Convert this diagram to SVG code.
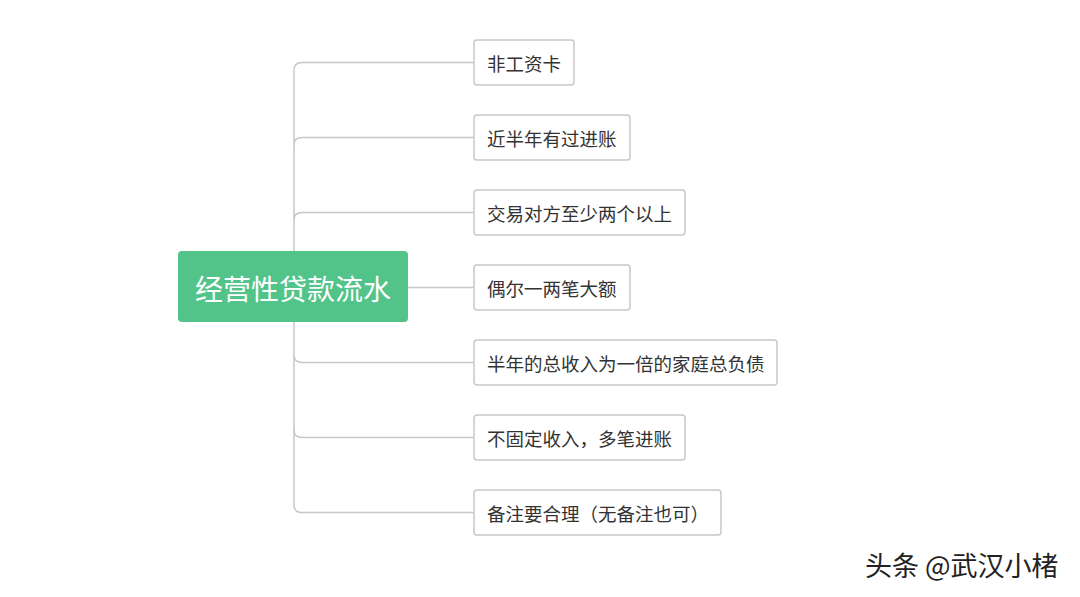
<svg xmlns="http://www.w3.org/2000/svg" width="1080" height="597" viewBox="0 0 1080 597">
<style>
.n rect{fill:#fff;stroke:#c8c8c8;stroke-width:1.5}
.n text{font-family:"Noto Sans CJK SC",sans-serif;font-size:18.5px;fill:#333;dominant-baseline:central}
.c path{fill:none;stroke:#c8c8c8;stroke-width:1.5}
</style>
<rect width="1080" height="597" fill="#fff"/>
<g class="c">
<path d="M294 251 V70 Q294 62.5 302 62.5 H474"/>
<path d="M294 145 Q294 137.5 302 137.5 H474"/>
<path d="M294 220 Q294 212.5 302 212.5 H474"/>
<path d="M408 287.5 H474"/>
<path d="M294 322 V505 Q294 512.5 302 512.5 H474"/>
<path d="M294 355 Q294 362.5 302 362.5 H474"/>
<path d="M294 430 Q294 437.5 302 437.5 H474"/>
</g>
<g id="root"><rect x="178" y="251" width="230" height="71" rx="4" fill="#52c48a"/>
<text x="293" y="288" text-anchor="middle" dominant-baseline="central" font-family="Noto Sans CJK SC,sans-serif" font-size="28" fill="#fff">经营性贷款流水</text></g>
<g id="n1" class="n"><rect x="474" y="40" width="100" height="45" rx="3"/><text x="487" y="62.5">非工资卡</text></g>
<g id="n2" class="n"><rect x="474" y="115" width="156" height="45" rx="3"/><text x="487" y="137.5">近半年有过进账</text></g>
<g id="n3" class="n"><rect x="474" y="190" width="211" height="45" rx="3"/><text x="487" y="212.5">交易对方至少两个以上</text></g>
<g id="n4" class="n"><rect x="474" y="265" width="156" height="45" rx="3"/><text x="487" y="287.5">偶尔一两笔大额</text></g>
<g id="n5" class="n"><rect x="474" y="340" width="303" height="45" rx="3"/><text x="487" y="362.5">半年的总收入为一倍的家庭总负债</text></g>
<g id="n6" class="n"><rect x="474" y="415" width="211" height="45" rx="3"/><text x="487" y="437.5">不固定收入，多笔进账</text></g>
<g id="n7" class="n"><rect x="474" y="490" width="247" height="45" rx="3"/><text x="487" y="512.5">备注要合理（无备注也可）</text></g>
<text x="865" y="576" font-family="Noto Sans CJK SC,sans-serif" font-size="27" fill="#222">头条 @武汉小楮</text>
</svg>
